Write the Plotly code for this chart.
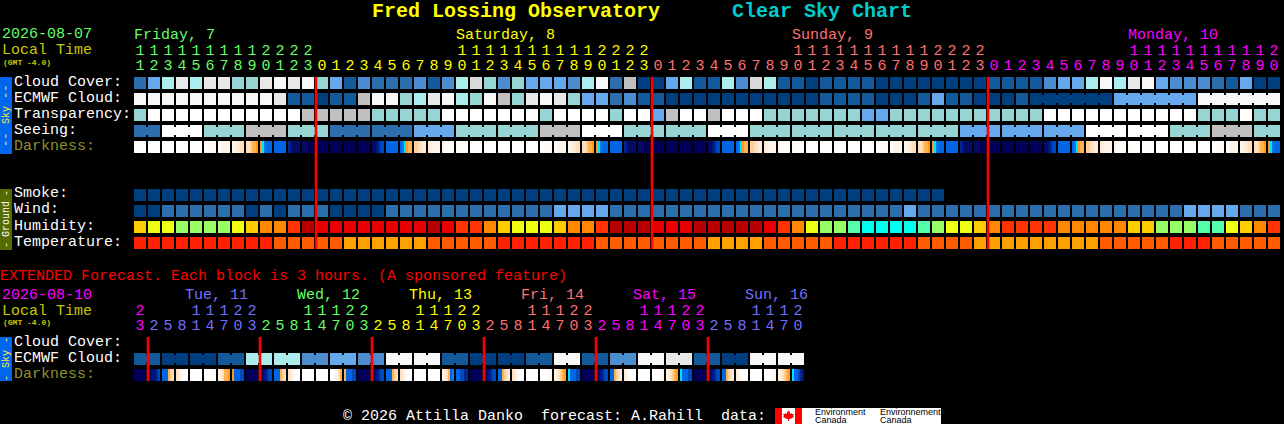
import plotly.graph_objects as go

# hourly forecast, 82 columns starting Friday 11:00
hours = [11,12,13,14,15,16,17,18,19,20,21,22,23,
         0,1,2,3,4,5,6,7,8,9,10,11,12,13,14,15,16,17,18,19,20,21,22,23,
         0,1,2,3,4,5,6,7,8,9,10,11,12,13,14,15,16,17,18,19,20,21,22,23,
         0,1,2,3,4,5,6,7,8,9,10,11,12,13,14,15,16,17,18,19,20]
day_names = ["Friday, 7", "Saturday, 8", "Sunday, 9", "Monday, 10"]
day_start = [0, 13, 37, 61]
day_label_col = [0, 23, 47, 71]
day_colors = ["#66ff66", "#ffff00", "#ff7070", "#ff00ff"]

# sky levels: index into sky_palette
cloud = [2,4,6,9,6,9,9,5,5,9,10,9,10,5,4,1,3,2,2,2,3,
         1,3,6,8,5,3,5,4,4,4,3,6,10,2,7,0,0,4,6,1,1,6,3,8,6,1,1,0,1,1,
         1,1,0,0,0,0,0,0,0,0,1,1,1,1,3,4,4,6,10,6,9,10,4,3,3,3,2,1,4,0,0]
ecmwf = [10,10,10,10,10,10,10,10,10,10,9,1,1,0,1,1,7,10,10,5,6,
         9,10,6,5,10,7,5,9,10,9,5,4,4,2,3,1,1,0,0,0,0,0,0,0,0,0,0,0,1,1,
         1,1,0,0,0,1,4,1,1,0,0,0,1,0,0,0,0,0,0,4,4,4,4,4,4,10,10,10,10,10,10]
ecmwf_runs = [1]*64 + [6,6,6]
transparency = [5,11,11,11,11,11,11,11,11,11,11,11,7,7,7,7,7,5,5,5,5,
                5,11,11,11,11,11,11,11,5,11,11,11,11,5,11,11,4,7,11,11,7,11,11,11,5,5,5,5,5,5,
                5,4,4,5,5,5,5,5,5,5,5,5,5,5,11,11,11,11,11,11,11,11,11,11,11,5,5,5,11,5,5]
seeing_runs = [2,3,3,3,3,3,3,3,3,3,3,3,3,3,3,3,3,3,3,3,3,3,3,3,3,3,3,2]
seeing_levels = [2,11,5,7,5,2,2,4,5,5,7,11,5,5,11,5,5,5,5,5,4,4,4,11,11,5,7,5]
smoke = [0]*58
wind = [0,0,2,2,2,2,2,2,0,2,0,2,2,2,0,0,0,0,2,2,2,
        2,2,2,2,2,2,2,2,2,4,4,4,4,2,2,2,2,2,2,2,2,2,2,2,2,2,2,2,2,2,
        2,2,2,2,4,2,2,2,2,2,2,2,2,2,2,2,2,2,2,2,2,2,2,2,4,4,4,4,2,2,2]
humidity = [4,5,5,6,6,6,6,5,4,3,3,2,0,1,1,1,1,1,1,1,1,
            0,1,2,2,3,4,5,5,5,4,3,3,2,0,0,0,1,1,1,0,0,0,0,0,1,2,3,5,6,6,7,
            8,8,8,8,7,6,5,5,4,3,2,2,2,2,3,3,3,3,3,4,4,6,6,6,7,7,5,4,3,2]
temperature = [0,0,0,0,0,0,0,0,0,0,1,1,1,1,1,2,2,2,2,2,2,
               1,1,1,1,1,0,0,0,0,0,0,0,1,1,1,1,1,1,1,1,2,2,2,2,1,1,1,1,1,0,0,
               0,0,0,0,1,1,1,1,2,2,2,2,2,2,2,2,2,1,1,1,1,1,0,0,0,1,1,1,1,1]

# darkness, one string per column, six samples across the block
darkness = ["000000","000000","000000","000000","000000","001111","112222","223344","445667","789aaa","aaaaaa","cdeeee","eeffff",
            "ffffff","ffffff","ffffff","ffffff","eedcbb","aaaaaa","a98766","554433","332222","211111","110000",
            "000000","000000","000000","000000","000000","001111","112222","223344","445667","789aaa","aaaaaa","cdeeee","eeffff",
            "ffffff","ffffff","ffffff","ffffff","eedcbb","aaaaaa","a98766","554433","332222","211111","110000",
            "000000","000000","000000","000000","000000","001111","112222","223344","445667","789aaa","aaaaaa","cdeeee","eeffff",
            "ffffff","ffffff","ffffff","ffffff","eedcbb","aaaaaa","a98766","554433","332222","211111","110000",
            "000000","000000","000000","000000","000000","001111","112222","223344","445667","789aaa"]

# extended forecast, 48 columns
ext_hours = [23,2,5,8,11,14,17,20,23,2,5,8,11,14,17,20,23,2,5,8,11,14,17,20,23,
             2,5,8,11,14,17,20,23,2,5,8,11,14,17,20,23,2,5,8,11,14,17,20]
ext_day_names = ["Tue, 11", "Wed, 12", "Thu, 13", "Fri, 14", "Sat, 15", "Sun, 16"]
ext_day_start = [0, 1, 9, 17, 25, 33, 41]
ext_day_label_col = [4, 12, 20, 28, 36, 44]
ext_day_colors = ["#ff00ff", "#7070ff", "#66ff66", "#ffff00", "#ff7070", "#ff00ff", "#7070ff"]
ext_ecmwf = [1,0,0,1,6,6,3,4,3,10,10,1,0,0,1,10,1,3,10,9,1,0,10,10]
ext_darkness = ["ffffff","eeddcb","aaa654","432100","000000","000111","234667","7aaabb","ffffff","eedcbb","aaa654","432100",
                "000000","000000","001246","6aaabb","ffffff","eedcbb","aaa654","432100","000000","000001","2346a9","aabbcc",
                "ffffff","eedcbb","aa6543","432100","000000","000112","234567","8aaabb","ffffff","eedcbb","aa6543","321000",
                "000000","000112","234567","8aaabb","ffffff","eedcbb","aa6543","321000","000000","000112","234567","8aabcd"]

sky_palette = ["#003f7f","#135a9a","#2c6dae","#4c8dcf","#65a8eb","#97d5d5","#abecec",
               "#c0c0c0","#d9d9d9","#e8e8e8","#f8f8f8","#ffffff"]
humidity_palette = ["#b80000","#e80000","#ff3300","#ff8800","#ffcc00","#eeff11","#99ff66","#55ffaa","#00ffee"]
temperature_palette = ["#ff2200","#ff5c00","#ffa000"]
dark_palette = ["#ffffff","#fffbf6","#fff4e8","#ffecd8","#ffe0be","#ffd090","#ffb050","#ff9a20",
                "#00e0ff","#0a7cf0","#0066e6","#0048c0","#002a90","#001480","#000c68","#000058"]

W, H = 1284, 424


def xdata(px):
    return (px - 140) / 14


def ydata(px):
    return (px - 83) / 16


def scale(colors):
    return [[k / (len(colors) - 1), c] for k, c in enumerate(colors)]


def samples(z, row, colors):
    # 2px samples, the seventh one of each column stays empty
    return go.Heatmap(z=[z], x0=-5 / 14, dx=1 / 7, y=[row], colorscale=scale(colors),
                      zmin=0, zmax=len(colors) - 1, showscale=False, ygap=4, hoverinfo="skip")


def blocks(values, row, colors):
    z = []
    for v in values:
        z += [v] * 6 + [None]
    return samples(z, row, colors)


def dark_blocks(cells, row):
    z = []
    for cell in cells:
        z += [int(c, 16) for c in cell] + [None]
    return samples(z, row, dark_palette)


def necks(values, runs, row, colors):
    # joins the blocks of one model step
    out = []
    col = 0
    for n in runs:
        if n > 1:
            out.append(go.Scatter(x=[col, col + n - 1], y=[row, row], mode="lines", hoverinfo="skip",
                                  line=dict(color=colors[values[col]], width=8)))
        col += n
    return out


def expand(runs, levels):
    out = []
    for n, v in zip(runs, levels):
        out += [v] * n
    return out


def label(x, y, text, color="#ffffff", size=15, bold=False, angle=0, anchor="left", font="Liberation Mono"):
    return dict(x=x / W, y=1 - y / H, xref="paper", yref="paper", text=f"<b>{text}</b>" if bold else text,
                showarrow=False, xanchor=anchor, yanchor="middle", textangle=angle,
                font=dict(family=font, size=size, color=color), borderpad=0, borderwidth=0)


def day_label(col, y, text, color):
    return dict(x=col, y=ydata(y), xref="x", yref="y", text=text, showarrow=False, xanchor="left",
                yanchor="middle", borderpad=0, font=dict(family="Liberation Mono", size=15, color=color))


def rect(x0, y0, x1, y1, color):
    return dict(type="rect", xref="paper", yref="paper", x0=x0 / W, x1=x1 / W, y0=1 - y0 / H, y1=1 - y1 / H,
                fillcolor=color, line=dict(width=0), layer="below")


def hour_text(hrs, starts, colors, y_tens, y_units):
    col_colors = []
    for i in range(len(hrs)):
        d = sum(1 for s in starts if s <= i) - 1
        col_colors.append(colors[d])
    tens = [i for i, h in enumerate(hrs) if h >= 10]
    return [
        go.Scatter(x=tens, y=[ydata(y_tens)] * len(tens), text=[str(hrs[i] // 10) for i in tens], mode="text",
                   textfont=dict(family="Liberation Mono", size=15, color=[col_colors[i] for i in tens]),
                   hoverinfo="skip"),
        go.Scatter(x=list(range(len(hrs))), y=[ydata(y_units)] * len(hrs), text=[str(h % 10) for h in hrs],
                   mode="text", textfont=dict(family="Liberation Mono", size=15, color=col_colors),
                   hoverinfo="skip"),
    ]


def midnights(hrs, top, bottom):
    xs, ys = [], []
    prev = hrs[0]
    for i, h in enumerate(hrs):
        if h < prev:
            xs += [i - 6 / 14, i - 6 / 14, None]
            ys += [top, bottom, None]
        prev = h
    return go.Scatter(x=xs, y=ys, mode="lines", line=dict(color="#ff0000", width=2.6), hoverinfo="skip")


fig = go.Figure()

seeing = expand(seeing_runs, seeing_levels)
ext_row = 16.25

fig.add_trace(blocks(cloud, 0, sky_palette))
fig.add_trace(blocks(ecmwf, 1, sky_palette))
fig.add_trace(blocks(transparency, 2, sky_palette))
fig.add_trace(blocks(seeing, 3, sky_palette))
fig.add_trace(dark_blocks(darkness, 4))
fig.add_trace(blocks(smoke, 7, sky_palette))
fig.add_trace(blocks(wind, 8, sky_palette))
fig.add_trace(blocks(humidity, 9, humidity_palette))
fig.add_trace(blocks(temperature, 10, temperature_palette))
fig.add_traces(necks(ecmwf, ecmwf_runs, 1, sky_palette))
fig.add_traces(necks(seeing, seeing_runs, 3, sky_palette))

ext_values = expand([2] * len(ext_ecmwf), ext_ecmwf)
fig.add_trace(blocks(ext_values, ext_row + 1, sky_palette))
fig.add_trace(dark_blocks(ext_darkness, ext_row + 2))
fig.add_traces(necks(ext_values, [2] * len(ext_ecmwf), ext_row + 1, sky_palette))

fig.add_trace(midnights(hours, -0.375, 10.375))
fig.add_trace(midnights(ext_hours, ext_row - 0.375, ext_row + 2.375))
fig.add_traces(hour_text(hours, day_start, day_colors, 51, 66))
fig.add_traces(hour_text(ext_hours, ext_day_start, ext_day_colors, 311, 326))

notes = [
    label(372, 12, "Fred Lossing Observatory", "#ffff00", 20, True),
    label(732, 12, "Clear Sky Chart", "#00cccc", 20, True),
    label(2, 35, "2026-08-07", "#66ff66"),
    label(2, 51, "Local Time", "#c8c800"),
    label(3, 62, "(GMT -4.0)", "#c8c800", 8, True),
    label(0, 276, "EXTENDED Forecast. Each block is 3 hours. (A sponsored feature)", "#ff0000"),
    label(2, 295, "2026-08-10", "#ff00ff"),
    label(2, 311, "Local Time", "#c8c800"),
    label(3, 322, "(GMT -4.0)", "#c8c800", 8, True),
    label(343, 416, "© 2026 Attilla Danko  forecast: A.Rahill  data:", "#ffffff"),
    label(6, 92, "--", "#ffee33", 12, angle=-90, anchor="center"),
    label(6, 115, "Sky", "#ffee33", 10, angle=-90, anchor="center"),
    label(6, 140, "--", "#ffee33", 12, angle=-90, anchor="center"),
    label(6, 193, "-", "#ffffff", 10, angle=-90, anchor="center"),
    label(6, 219, "Ground", "#ffffff", 10, angle=-90, anchor="center"),
    label(6, 245, "-", "#ffffff", 10, angle=-90, anchor="center"),
    label(6, 340, "-", "#ffee33", 10, angle=-90, anchor="center"),
    label(6, 359, "Sky", "#ffee33", 10, angle=-90, anchor="center"),
    label(6, 378, "-", "#ffee33", 10, angle=-90, anchor="center"),
    label(815, 412, "Environment", "#000000", 9, font="Liberation Sans"),
    label(815, 420, "Canada", "#000000", 9, font="Liberation Sans"),
    label(880, 412, "Environnement", "#000000", 9, font="Liberation Sans"),
    label(880, 420, "Canada", "#000000", 9, font="Liberation Sans"),
]
for name, col, color in zip(day_names, day_label_col, day_colors):
    notes.append(day_label(col - 7 / 14, 35, name, color))
for name, col, color in zip(ext_day_names, ext_day_label_col, ext_day_colors[1:]):
    notes.append(day_label(col - 12 / 14, 295, name, color))
for text, y, color in [("Cloud Cover:", 83, "#ffffff"), ("ECMWF Cloud:", 99, "#ffffff"), ("Transparency:", 115, "#ffffff"),
                       ("Seeing:", 131, "#ffffff"), ("Darkness:", 147, "#8f8f2f"), ("Smoke:", 195, "#ffffff"),
                       ("Wind:", 211, "#ffffff"), ("Humidity:", 227, "#ffffff"), ("Temperature:", 243, "#ffffff"),
                       ("Cloud Cover:", 343, "#ffffff"), ("ECMWF Cloud:", 359, "#ffffff"), ("Darkness:", 375, "#8f8f2f")]:
    notes.append(label(14, y - 1, text, color))

leaf = "M788,410 L789,412 L790,411 L790,414 L792,413 L792,414 L794,414 L793,416 L794,417 L790,419 L789,419 L789,421 L788,421 L788,419 L787,419 L783,417 L784,416 L783,414 L785,414 L785,413 L787,414 L787,411 L788,412 Z"
leaf_path = ""
for part in leaf.split(" "):
    if part == "Z":
        leaf_path += "Z"
    else:
        px, py = part[1:].split(",")
        leaf_path += f"{part[0]}{xdata(float(px)):.4f},{ydata(float(py)):.4f} "

shapes = [
    rect(0, 77, 12, 154, "#0066ee"),
    rect(0, 189, 12, 250, "#556b00"),
    rect(0, 337, 12, 381, "#0066ee"),
    rect(775, 408, 941, 424, "#ffffff"),
    rect(775, 408, 782, 424, "#ff0000"),
    rect(795, 408, 802, 424, "#ff0000"),
    dict(type="path", path=leaf_path, xref="x", yref="y", fillcolor="#ff0000", line=dict(width=0)),
]

fig.update_layout(
    width=W, height=H, margin=dict(l=0, r=0, t=0, b=0),
    paper_bgcolor="#000000", plot_bgcolor="#000000", showlegend=False,
    xaxis=dict(range=[xdata(0), xdata(W)], visible=False, fixedrange=True),
    yaxis=dict(range=[ydata(H), ydata(0)], visible=False, fixedrange=True),
    annotations=notes, shapes=shapes,
)

fig.write_html("out.html", config=dict(displayModeBar=False),
               post_script="document.body.style.margin='0';document.body.style.overflow='hidden';")
